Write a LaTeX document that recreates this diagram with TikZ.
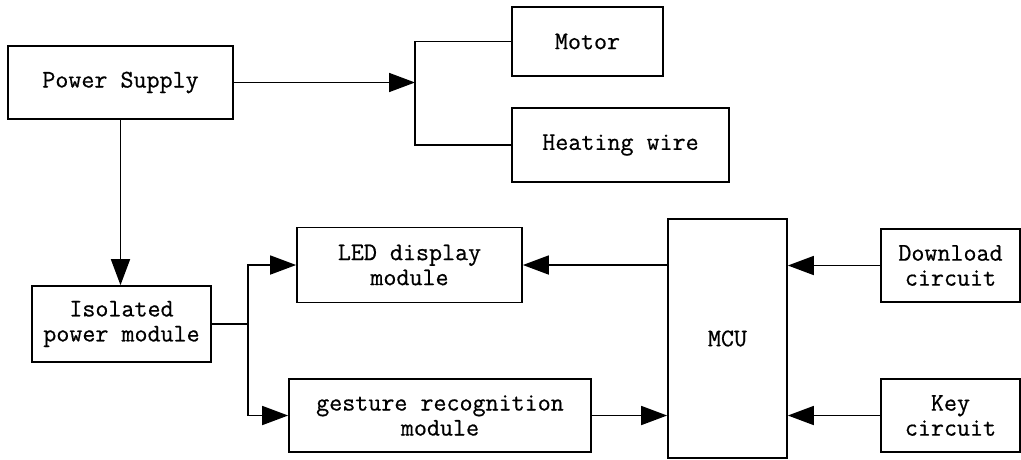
\documentclass[tikz,border=0pt]{standalone}
\usepackage{fontspec}
\newfontfamily\boxfont{Latin Modern Mono}[FakeBold=0.6]
\usetikzlibrary{arrows.meta}
\begin{document}
\begin{tikzpicture}[x=1pt,y=-1pt,
  blk/.style={draw,line width=1.7pt,inner sep=0pt,align=center,
    font=\boxfont\fontsize{25.3}{25}\selectfont},
  conn/.style={line width=1.7pt},
  arr/.style={conn,-{Triangle[length=26pt,width=19pt]}}]
\useasboundingbox (0,0) rectangle (1021,459);
\fill[white] (0,0) rectangle (1021,459);
\node[blk,minimum width=225pt,minimum height=73pt] (ps) at (120.5,82.5) {Power Supply};
\node[blk,minimum width=151pt,minimum height=69pt] (motor) at (587.5,41.5) {Motor};
\node[blk,minimum width=217pt,minimum height=74pt] (heat) at (620.5,145) {Heating wire};
\node[blk,minimum width=179pt,minimum height=76pt] (iso) at (121.5,324) {Isolated\\power module};
\node[blk,minimum width=225pt,minimum height=75pt] (led) at (409.5,265) {LED display\\module};
\node[blk,minimum width=302pt,minimum height=73pt] (gest) at (440,415.5) {gesture recognition\\module};
\node[blk,minimum width=119pt,minimum height=239pt] (mcu) at (727.5,338.5) {MCU};
\node[blk,minimum width=139pt,minimum height=73pt] (dl) at (950.5,265.5) {Download\\circuit};
\node[blk,minimum width=139pt,minimum height=73pt] (key) at (950.5,415.5) {Key\\circuit};
\coordinate (brk) at (415,82.5);
\coordinate (bt) at (415,41.5);
\coordinate (bb) at (415,145);
\coordinate (j) at (248,324);
\draw[arr] (ps.east) -- (brk);
\draw[conn] (motor.west) -- (bt) -- (bb) -- (heat.west);
\draw[arr] (ps.south) -- (ps.south |- iso.north);
\draw[conn] (iso.east) -- (j);
\draw[arr] (j) |- (led.west);
\draw[arr] (j) |- (gest.west);
\draw[arr] (mcu.west |- led.east) -- (led.east);
\draw[arr] (gest.east) -- (gest.east -| mcu.west);
\draw[arr] (dl.west) -- (dl.west -| mcu.east);
\draw[arr] (key.west) -- (key.west -| mcu.east);
\end{tikzpicture}
\end{document}
